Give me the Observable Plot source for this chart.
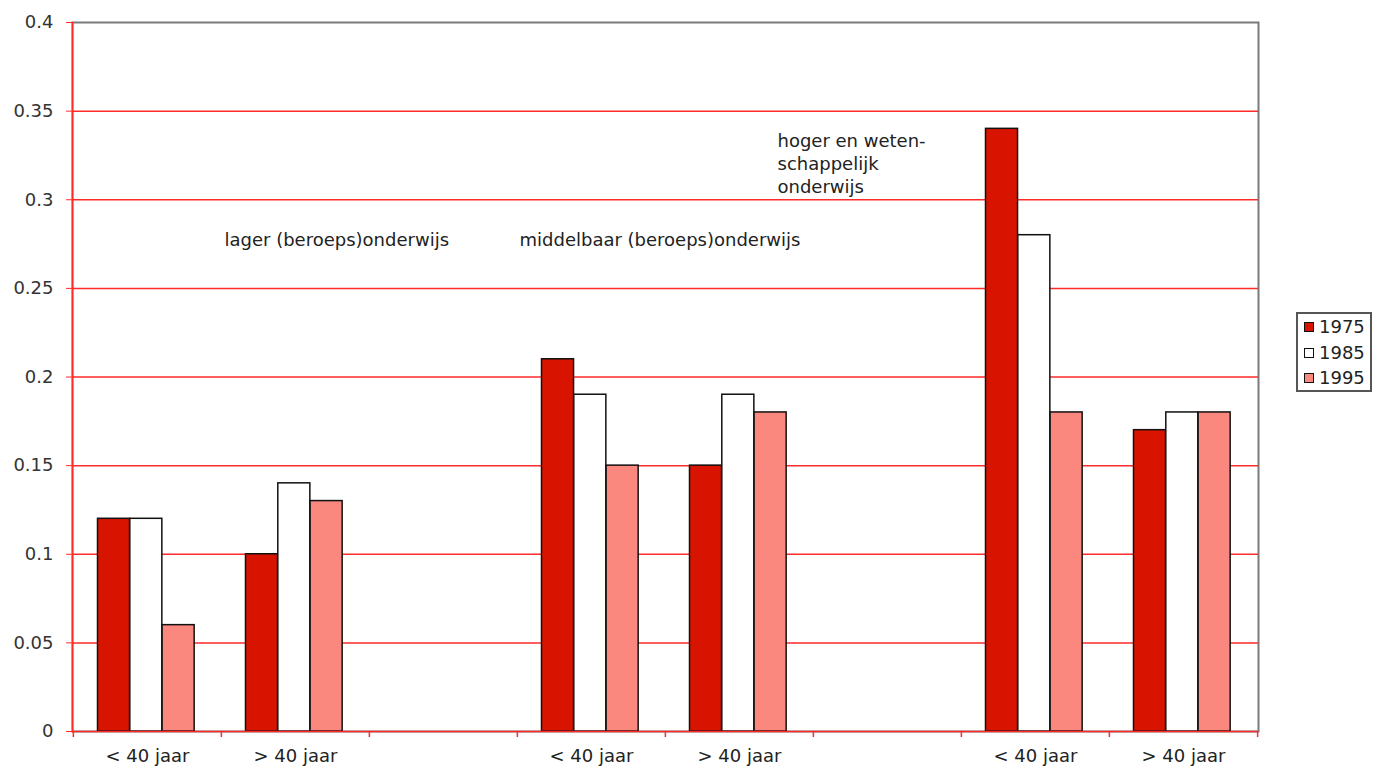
<!DOCTYPE html>
<html>
<head>
<meta charset="utf-8">
<script src="https://cdn.jsdelivr.net/npm/d3@7"></script>
<script src="https://cdn.jsdelivr.net/npm/@observablehq/plot@0.6"></script>
<style>
  html, body { margin: 0; padding: 0; background: #fff; }
  #wrap { position: relative; width: 1373px; height: 769px; font-family: "DejaVu Sans", sans-serif; }
  #legend { position: absolute; left: 1296px; top: 312px; width: 72px; height: 76px; border: 2px solid #555; background: #fff; box-sizing: content-box; }
  .item { position: absolute; left: 6px; font-size: 18px; color: #222; line-height: 20px; }
  .sw { display: inline-block; width: 8px; height: 8px; border: 1.5px solid #111; margin-right: 5px; vertical-align: 1px; }
</style>
</head>
<body>
<div id="wrap"></div>
<script>
const slots = ["L<40", "L>40", "gap1", "M<40", "M>40", "gap2", "H<40", "H>40"];
const slotLabels = ["< 40 jaar", "> 40 jaar", "", "< 40 jaar", "> 40 jaar", "", "< 40 jaar", "> 40 jaar"];
const barSlots = ["L<40", "L>40", "M<40", "M>40", "H<40", "H>40"];
const years = ["1975", "1985", "1995"];
const v1975 = [0.12, 0.10, 0.21, 0.15, 0.34, 0.17];
const v1985 = [0.12, 0.14, 0.19, 0.19, 0.28, 0.18];
const v1995 = [0.06, 0.13, 0.15, 0.18, 0.18, 0.18];
const yTicks = [0, 0.05, 0.1, 0.15, 0.2, 0.25, 0.3, 0.35, 0.4];
const groupLabels = ["lager (beroeps)onderwijs", "middelbaar (beroeps)onderwijs", "hoger en weten-\nschappelijk\nonderwijs"];
const colors = ["#d81400", "#ffffff", "#fb887e"];

const W = 1373, H = 769, mL = 72, mR = 115, mT = 22, mB = 38;
const step = (W - mL - mR) / slots.length;
const off = 24.5, bw = 32.3;

const series = [v1975, v1985, v1995];
const rows = years.map((yr, k) => barSlots.map((s, i) => ({slot: s, year: yr, value: series[k][i]})));
const labelOf = new Map(slots.map((s, i) => [s, slotLabels[i]]));

const barMarks = rows.map((data, k) => Plot.barY(data, {
  x: "slot", y: "value", fill: colors[k], stroke: "#111", strokeWidth: 1.5,
  insetLeft: off + k * bw, insetRight: step - off - (k + 1) * bw
}));

const chart = Plot.plot({
  width: W, height: H,
  marginLeft: mL, marginRight: mR, marginTop: mT, marginBottom: mB,
  style: {fontFamily: "DejaVu Sans, sans-serif", fontSize: "18px", background: "#fff", color: "#222"},
  x: {domain: slots, padding: 0, axis: null, label: null},
  y: {domain: [0, 0.4], axis: null, label: null},
  marks: [
    Plot.frame({stroke: "#7a7a7a", strokeWidth: 2}),
    Plot.ruleY(yTicks.filter(d => d > 0 && d < 0.4), {stroke: "#ff2a2a", strokeWidth: 1.5}),
    ...barMarks,
    Plot.ruleY([0], {stroke: "#ff2a2a", strokeWidth: 1.5}),
    Plot.frame({anchor: "left", stroke: "#ff2a2a", strokeWidth: 1.5}),
    Plot.axisY({ticks: yTicks, tickSize: 6, tickPadding: 13, stroke: "#ff2a2a", color: "#333", label: null,
      tickFormat: d => String(+d.toFixed(2))}),
    Plot.axisX({tickSize: 0, tickPadding: 18, color: "#222", label: null, tickFormat: d => labelOf.get(d)}),
    Plot.ruleX(slots, {x: d => d, y1: 0, y2: 0, insetBottom: -6, dx: -step / 2, stroke: "#ff2a2a", strokeWidth: 1.5}),
    Plot.ruleX(slots.slice(-1), {x: d => d, y1: 0, y2: 0, insetBottom: -6, dx: step / 2, stroke: "#ff2a2a", strokeWidth: 1.5}),
    Plot.text([groupLabels[0]], {x: () => "L>40", y: () => 0.277, text: d => d, textAnchor: "start", dx: -71, fill: "#222"}),
    Plot.text([groupLabels[1]], {x: () => "M<40", y: () => 0.277, text: d => d, textAnchor: "start", dx: -72, fill: "#222"}),
    Plot.text([groupLabels[2]], {x: () => "M>40", y: () => 0.321, text: d => d, textAnchor: "start", dx: 38, lineHeight: 1.28, fill: "#222"})
  ]
});

const wrap = document.getElementById("wrap");
wrap.appendChild(chart);

const legend = document.createElement("div");
legend.id = "legend";
years.forEach((yr, k) => {
  const it = document.createElement("div");
  it.className = "item";
  it.style.top = (3 + k * 25.5) + "px";
  const sw = document.createElement("span");
  sw.className = "sw";
  sw.style.background = colors[k];
  it.appendChild(sw);
  it.appendChild(document.createTextNode(yr));
  legend.appendChild(it);
});
wrap.appendChild(legend);
</script>
</body>
</html>
